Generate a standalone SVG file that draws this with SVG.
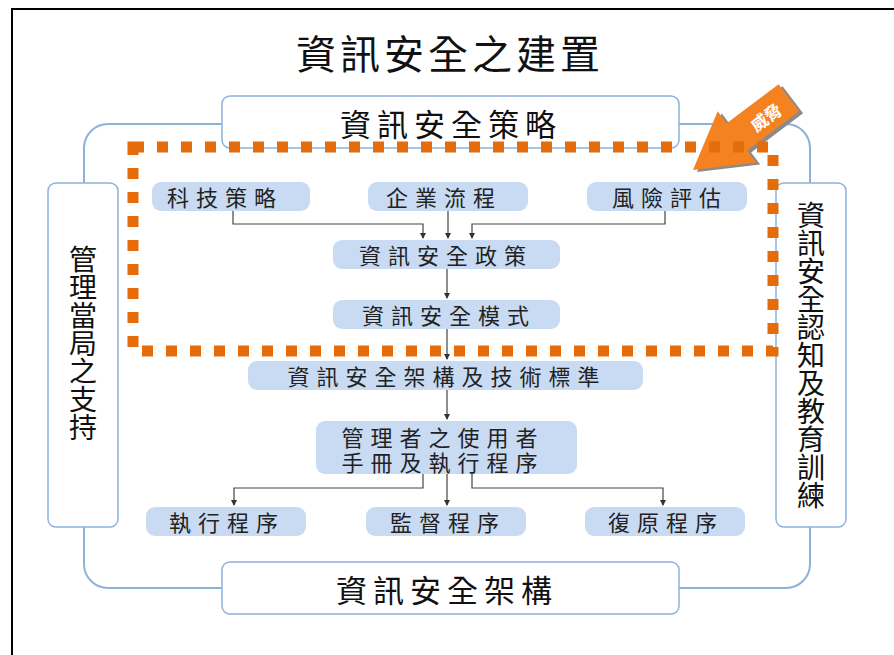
<svg xmlns="http://www.w3.org/2000/svg" width="894" height="655" viewBox="0 0 894 655">
<defs>
<style>
.frame{fill:none;stroke:#000;stroke-width:2}
.loop{fill:none;stroke:#8eb1dc;stroke-width:2}
.big{fill:#fff;stroke:#8eb1dc;stroke-width:1.5}
.inner{fill:#c9dbf2}
.t-big{font-family:"Noto Sans CJK TC","Noto Sans CJK SC",sans-serif;fill:#111;text-anchor:middle;dominant-baseline:central}
.t-in{font-family:"Noto Sans CJK TC","Noto Sans CJK SC",serif;fill:#222;font-size:22px;letter-spacing:7px;text-anchor:middle;dominant-baseline:central}
.conn{fill:none;stroke:#444;stroke-width:1.2}
.dots{fill:none;stroke:#e46c0a;stroke-width:11;stroke-dasharray:11 13}
</style>
<marker id="ah" markerUnits="userSpaceOnUse" markerWidth="6" markerHeight="6" refX="5" refY="3" orient="auto">
<path d="M0,0 L6,3 L0,6 z" fill="#333"/>
</marker>
</defs>
<rect x="0" y="0" width="894" height="655" fill="#fff"/>
<rect class="frame" x="12" y="9" width="900" height="660"/>

<text class="t-big" x="448" y="52" font-size="40" letter-spacing="4" dx="2">資訊安全之建置</text>

<rect class="loop" x="84" y="124" width="726" height="464" rx="24"/>

<g id="strategy">
<rect class="big" x="222" y="96" width="457" height="52" rx="8"/>
<text class="t-big" x="451" y="122" font-size="31" letter-spacing="6">資訊安全策略</text>
</g>
<g id="architecture">
<rect class="big" x="222" y="562" width="457" height="52" rx="8"/>
<text class="t-big" x="447" y="588" font-size="31" letter-spacing="6">資訊安全架構</text>
</g>
<g id="mgmt-support">
<rect class="big" x="48" y="183" width="70" height="344" rx="8"/>
<text class="t-big" x="83" y="343" font-size="28" style="writing-mode:vertical-rl">管理當局之支持</text>
</g>
<g id="awareness">
<rect class="big" x="776" y="183" width="70" height="344" rx="8"/>
<text class="t-big" x="811" y="355" font-size="28" style="writing-mode:vertical-rl">資訊安全認知及教育訓練</text>
</g>

<g id="threat-arrow">
<g transform="translate(697,172) rotate(-37)">
<polygon points="0,0 55,-32 55,-17 120,-17 120,17 55,17 55,32" fill="#8a8a8a"/>
</g>
<g transform="translate(693,170) rotate(-37)">
<polygon points="0,0 55,-32 55,-17 120,-17 120,17 55,17 55,32" fill="#f58220"/>
<text x="90" y="1" font-family="Noto Sans CJK TC,sans-serif" font-size="17" font-weight="bold" fill="#fff" text-anchor="middle" dominant-baseline="central">威脅</text>
</g>
</g>

<g id="connectors">
<path class="conn" d="M233,211 V224 H423 V238" marker-end="url(#ah)"/>
<path class="conn" d="M448,211 V238" marker-end="url(#ah)"/>
<path class="conn" d="M665,211 V224 H472 V238" marker-end="url(#ah)"/>
<path class="conn" d="M447,269 V298" marker-end="url(#ah)"/>
<path class="conn" d="M447,329 V359" marker-end="url(#ah)"/>
<path class="conn" d="M447,390 V419" marker-end="url(#ah)"/>
<path class="conn" d="M423,474 V488 H234 V505" marker-end="url(#ah)"/>
<path class="conn" d="M447,474 V505" marker-end="url(#ah)"/>
<path class="conn" d="M472,474 V488 H663 V505" marker-end="url(#ah)"/>
</g>

<g id="tech-strategy"><rect class="inner" x="152" y="182" width="158" height="29" rx="9"/><text class="t-in" x="225" y="196">科技策略</text></g>
<g id="business-process"><rect class="inner" x="368" y="182" width="160" height="29" rx="9"/><text class="t-in" x="444" y="196">企業流程</text></g>
<g id="risk-assessment"><rect class="inner" x="587" y="182" width="160" height="29" rx="9"/><text class="t-in" x="670" y="196">風險評估</text></g>
<g id="policy"><rect class="inner" x="333" y="240" width="227" height="29" rx="9"/><text class="t-in" x="446" y="254">資訊安全政策</text></g>
<g id="model"><rect class="inner" x="333" y="300" width="227" height="29" rx="9"/><text class="t-in" x="449" y="314">資訊安全模式</text></g>
<g id="standards"><rect class="inner" x="248" y="361" width="395" height="29" rx="9"/><text class="t-in" x="447" y="375">資訊安全架構及技術標準</text></g>
<g id="manual"><rect class="inner" x="316" y="421" width="261" height="53" rx="9"/><text class="t-in" x="443" y="436"><tspan x="443" y="436">管理者之使用者</tspan><tspan x="443" y="461">手冊及執行程序</tspan></text></g>
<g id="exec"><rect class="inner" x="146" y="507" width="160" height="29" rx="9"/><text class="t-in" x="227" y="521">執行程序</text></g>
<g id="monitor"><rect class="inner" x="366" y="507" width="160" height="29" rx="9"/><text class="t-in" x="448" y="521">監督程序</text></g>
<g id="recovery"><rect class="inner" x="585" y="507" width="160" height="29" rx="9"/><text class="t-in" x="666" y="521">復原程序</text></g>

<rect class="dots" x="133" y="147" width="640" height="204"/>
</svg>
